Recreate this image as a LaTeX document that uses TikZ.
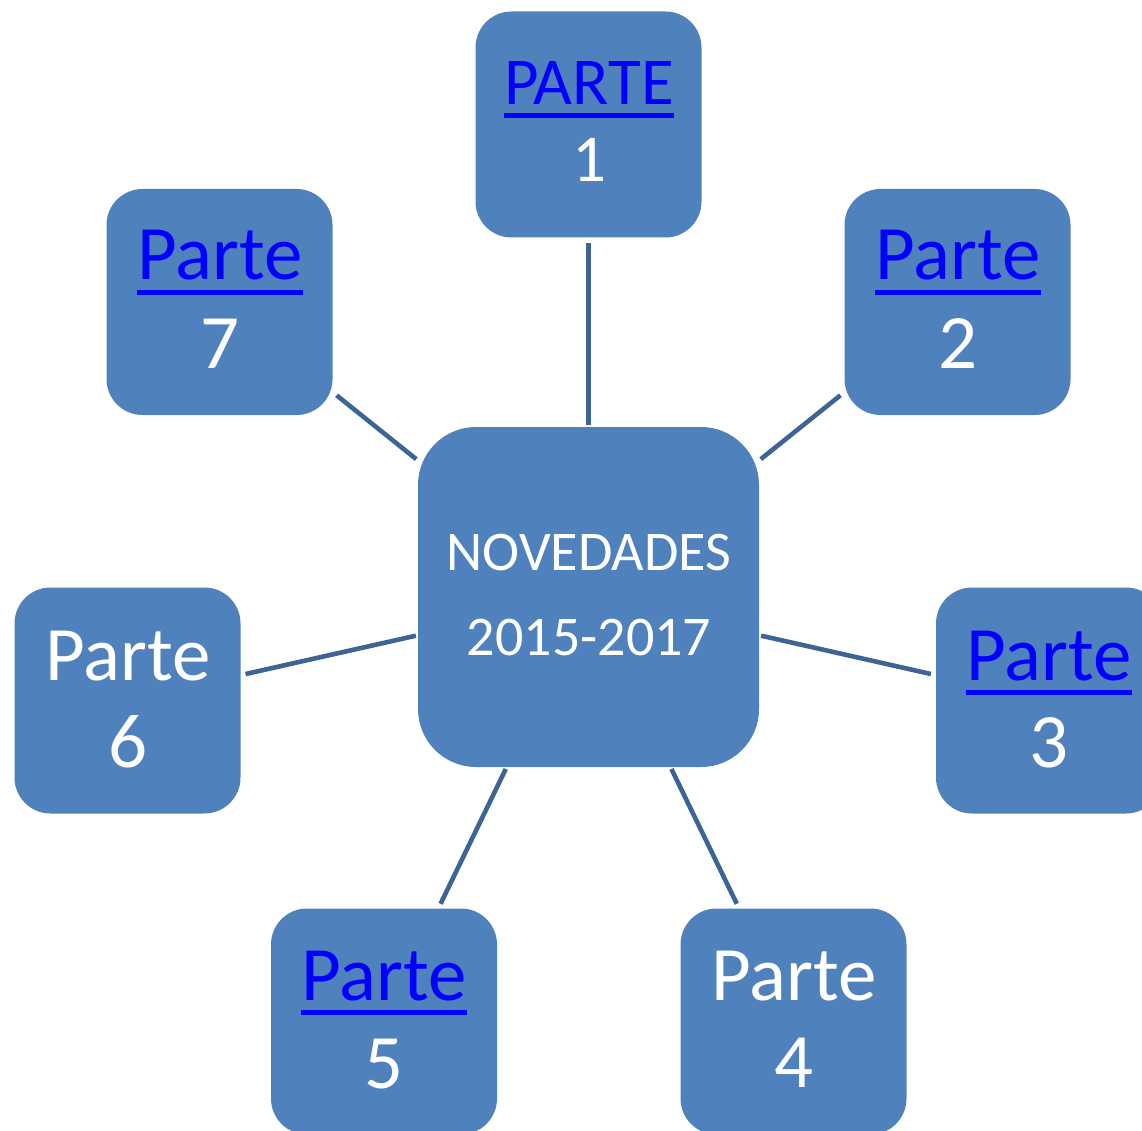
\documentclass[tikz,border=0pt]{standalone}
\usepackage{fontspec}
\setmainfont{Carlito}
\usetikzlibrary{calc}
\definecolor{boxfill}{RGB}{79,129,189}
\definecolor{linkblue}{RGB}{0,0,255}
\definecolor{conncol}{RGB}{60,100,148}
\newlength\ulw
\newcommand\linku[1]{\settowidth\ulw{#1}\rlap{\rule[-0.19em]{\ulw}{0.065em}}#1}
\begin{document}
\begin{tikzpicture}[x=1pt,y=-1pt,
  box/.style={fill=boxfill, draw=none, rounded corners=36pt, minimum width=226pt, minimum height=226pt, inner sep=0pt},
  hub/.style={fill=boxfill, draw=none, rounded corners=58pt, minimum width=341pt, minimum height=340pt, inner sep=0pt},
  conn/.style={draw=conncol, line width=4.6pt, shorten <=2pt, shorten >=5pt},
  bigtxt/.style={font=\fontsize{77}{87}\selectfont, anchor=base, inner sep=0pt},
  smalltxt/.style={font=\fontsize{67}{77}\selectfont, anchor=base, inner sep=0pt},
  hubtxt/.style={font=\fontsize{56}{85}\selectfont, anchor=base, inner sep=0pt, text=white},
  linktxt/.style={text=linkblue},
  numtxt/.style={text=white}]
\useasboundingbox (0,0) rectangle (1142,1131);
\clip (0,0) rectangle (1142,1131);
% boxes
\node[hub] (c) at (588.5,597) {};
\node[box] (p1) at (588.5,124.5) {};
\node[box] (p2) at (957.5,302) {};
\node[box] (p3) at (1049,700.5) {};
\node[box] (p4) at (793.5,1021.5) {};
\node[box] (p5) at (384,1021.5) {};
\node[box] (p6) at (127.5,700.5) {};
\node[box] (p7) at (219.5,302) {};
% connectors
\draw[conn] (c) -- (p1);
\draw[conn] (c) -- (p2);
\draw[conn] (c) -- (p3);
\draw[conn] (c) -- (p4);
\draw[conn] (c) -- (p5);
\draw[conn] (c) -- (p6);
\draw[conn] (c) -- (p7);
% texts
\node[hubtxt] (ct1) at (589,570) {NOVEDADES};
\node[hubtxt] (ct2) at (589,655) {2015-2017};
\node[smalltxt, linktxt] (p1a) at (589,105) {\linku{PARTE}};
\node[smalltxt, numtxt] (p1b) at (589,182) {1};
\node[bigtxt, linktxt] (p2a) at (958,280) {\linku{Parte}};
\node[bigtxt, numtxt] (p2b) at (958,368) {2};
\node[bigtxt, linktxt] (p3a) at (1049,680) {\linku{Parte}};
\node[bigtxt, numtxt] (p3b) at (1049,767) {3};
\node[bigtxt, numtxt] (p4a) at (794,1000) {Parte};
\node[bigtxt, numtxt] (p4b) at (794,1087) {4};
\node[bigtxt, linktxt] (p5a) at (384,1000) {\linku{Parte}};
\node[bigtxt, numtxt] (p5b) at (384,1088) {5};
\node[bigtxt, numtxt] (p6a) at (128,680) {Parte};
\node[bigtxt, numtxt] (p6b) at (128,767) {6};
\node[bigtxt, linktxt] (p7a) at (220,280) {\linku{Parte}};
\node[bigtxt, numtxt] (p7b) at (220,368) {7};
\end{tikzpicture}
\end{document}
